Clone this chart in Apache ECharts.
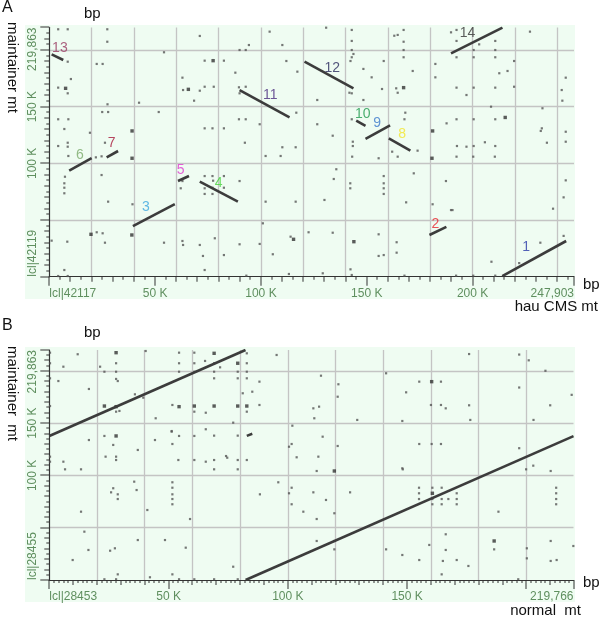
<!DOCTYPE html>
<html>
<head>
<meta charset="utf-8">
<script src="https://cdn.jsdelivr.net/npm/echarts@6/dist/echarts.min.js"></script>
<style>html,body{margin:0;padding:0;background:#fff}#c{width:600px;height:626px}</style>
</head>
<body>
<div id="c"></div>
<script>
// ---------- DATA (kbp) ----------
const aXMax = 247.903, aYMax = 219.863;
const bXMax = 219.766, bYMax = 219.863;
const aXTickLabels = {start: 'lcl|42117', end: '247,903'};
const aYTickLabels = {start: 'lcl|42119', end: '219,863'};
const bXTickLabels = {start: 'lcl|28453', end: '219,766'};
const bYTickLabels = {start: 'lcl|28455', end: '219,863'};
// minor tick steps (kbp) of each axis
const aXTickStep = 5, aYTickStep = 5, bXTickStep = 2, bYTickStep = 5;

// Panel A alignment segments [x1,y1,x2,y2]
const aSegments = [
  [214.0,0.5,244.2,31.5],[179.6,36.8,187.6,43.9],[39.5,44.7,59.3,64.1],[71.1,83.8,89.1,66.2],
  [60.8,84.4,66.0,88.8],[9.4,93.5,20.0,104.7],[27.1,105.3,32.5,110.9],[160.4,122.1,170.6,111.2],
  [149.4,121.5,161.0,133.6],[145.0,137.6,149.4,133.0],[89.9,164.7,113.5,140.6],[120.6,189.7,143.7,166.2],
  [1.1,196.2,6.6,191.2],[189.8,197.1,214.1,219.8]
];
const aSegNames = ['1','2','3','4','5','6','7','8','9','10','11','12','13','14'];
const aSegLabelPos = [
  [225.3,26.2],[182.4,46.5],[45.6,61.5],[80.0,82.7],[62.1,94.1],[14.5,107.4],[29.4,117.7],
  [166.7,125.6],[154.9,135.9],[148.1,143.5],[104.4,160.3],[133.7,184.4],[5.0,201.5],[197.6,214.8]
];
const aSegLabelColors = ['#2a3aa8','#e8262e','#3aa6e0','#44d23a','#e03ad0','#7aaa6a','#a8163a',
  '#f2e62a','#3a78cc','#1f9a4e','#4a2a7e','#2a2a5e','#9a3a62','#333333'];

const aDots = [
  [4.2,218.3],[8.7,218.3],[27.4,218.3],[27.4,207.3],[8.7,189.7],[54.2,198.0],[22.4,187.7],[25.2,187.7],
  [10.2,174.4],[4.2,166.8],[8.7,161.8],[62.9,175.6],[63.2,164.7],[68.4,155.3],[42.4,153.5],[25.0,145.3],
  [27.8,145.3],[51.7,145.3],[4.2,138.9],[9.0,138.9],[7.1,130.3],[19.2,127.0],[4.2,115.3],[8.7,118.2],
  [8.7,114.7],[26.3,118.2],[71.1,212.4],[104.1,216.2],[110.1,204.4],[94.3,204.4],[89.9,200.0],[92.8,200.0],
  [73.4,190.6],[82.5,190.6],[112.0,190.3],[117.2,180.9],[87.9,180.0],[71.1,164.1],[73.4,167.6],[77.7,167.6],
  [89.6,167.1],[92.8,167.6],[89.9,161.8],[27.5,152.1],[24.7,106.2],[73.4,130.9],[77.1,130.9],[82.5,130.9],
  [89.6,138.9],[92.8,138.9],[99.4,134.5],[92.4,118.2],[116.7,144.7],[110.1,114.2],[116.4,114.2],[102.2,106.5],
  [109.3,106.5],[24.7,89.7],[27.8,66.2],[39.3,63.9],[62.1,78.0],[73.4,88.8],[77.1,88.8],[82.5,88.8],
  [73.4,78.0],[77.1,78.5],[82.5,78.5],[73.4,73.0],[77.1,73.0],[77.4,84.7],[89.9,84.4],[102.2,66.2],
  [116.4,66.2],[100.9,47.1],[25.2,38.3],[26.3,30.0],[54.2,30.0],[62.9,31.5],[63.2,28.0],[71.1,28.0],
  [78.2,33.9],[89.9,28.6],[99.4,28.9],[72.6,18.3],[82.5,19.1],[105.6,19.8],[114.0,35.3],[9.0,106.5],
  [22.0,105.3],[7.4,88.2],[7.1,82.4],[7.1,78.5],[7.1,73.6],[62.9,84.4],[22.4,39.2],[1.1,31.8],
  [8.5,30.9],[7.1,5.9],[4.2,0.6],[8.7,0.6],[73.4,5.9],[93.1,0.9],[113.2,2.4],[129.2,3.0],
  [142.3,6.5],[142.9,1.5],[167.8,0.9],[192.2,0.9],[200.3,0.9],[208.9,13.2],[210.7,0.9],
  [130.8,219.7],[142.9,217.7],[167.4,217.7],[163.0,212.6],[164.6,213.3],[167.4,207.3],[142.9,208.0],[189.8,215.6],
  [192.4,217.7],[192.4,208.0],[203.1,205.0],[200.5,200.0],[210.7,208.0],[210.7,200.0],[227.1,216.2],[142.9,200.0],
  [143.7,196.5],[142.9,193.6],[142.3,190.3],[167.4,200.0],[167.4,193.6],[158.0,190.3],[192.4,193.6],[200.5,193.6],
  [210.7,193.6],[219.6,190.3],[182.4,187.7],[148.4,183.3],[171.7,181.5],[182.4,175.9],[152.3,175.9],[212.6,179.5],
  [216.5,181.5],[244.0,175.6],[219.6,167.6],[163.9,166.2],[157.2,165.6],[192.4,166.8],[200.5,166.8],[210.7,166.8],
  [164.6,162.3],[141.8,162.3],[142.9,161.8],[197.1,160.3],[242.1,164.7],[242.4,155.3],[126.6,155.9],[148.4,155.9],
  [208.7,150.0],[233.0,148.6],[126.6,134.5],[133.9,124.4],[142.9,138.9],[168.2,144.7],[167.8,138.9],[187.7,135.3],
  [192.4,138.9],[200.5,138.9],[210.7,138.9],[143.4,119.1],[143.4,115.3],[232.2,128.6],[232.7,130.9],[244.0,127.9],
  [235.1,118.2],[244.0,119.1],[192.6,115.3],[197.1,114.7],[200.5,115.3],[205.8,118.6],[210.7,115.3],
  [143.1,105.9],[155.6,104.5],[162.0,110.3],[164.6,105.9],[174.0,111.2],[192.4,105.9],[200.3,105.9],[210.5,105.9],
  [135.6,94.8],[134.4,86.2],[142.2,82.4],[142.2,78.0],[158.0,88.8],[158.0,82.4],[158.0,78.0],[158.0,73.0],
  [172.2,91.2],[187.4,84.4],[130.0,67.7],[168.6,65.6],[181.1,63.9],[189.8,58.8],[190.5,58.8],[122.5,39.2],
  [133.9,38.8],[155.6,37.4],[164.1,30.4],[164.1,21.2],[155.6,18.3],[158.0,19.1],
  [244.0,85.0],[243.0,70.0],[238.0,60.0],[232.0,30.0],[243.0,36.0],[222.0,12.0]
];
const aBigDots = [
  [7.7,166.2],[65.7,165.3],[39.1,128.6],[39.1,104.5],[39.0,36.8],[19.7,37.4],[115.4,33.0],[77.4,190.6],
  [167.4,166.8],[215.4,140.5],[181.1,128.6],[180.8,104.5],[143.9,30.9]
];

// Panel B alignment segments [x1,y1,x2,y2]
const bSegments = [
  [0.0,137.6,82.26,219.86],[82.3,0.0,219.766,137.5],[82.8,137.8,85.1,139.8]
];
const bDots = [
  [0.3,217.3],[11.9,215.8],[40.4,218.9],[54.4,217.3],[60.8,217.3],[0.3,207.2],[5.9,203.9],[21.3,203.9],
  [28.0,207.2],[23.1,199.1],[28.0,199.1],[54.4,207.2],[54.4,199.1],[60.8,207.2],[60.8,199.1],[0.3,192.8],
  [3.8,190.2],[28.0,192.2],[28.7,190.2],[16.6,182.6],[35.9,177.5],[39.4,174.3],[0.3,166.3],[28.0,160.9],
  [29.4,161.6],[51.6,167.3],[44.6,154.6],[23.1,137.7],[16.6,133.8],[26.8,129.1],[37.1,124.3],[44.3,133.8],
  [51.6,130.0],[51.3,141.8],[54.4,137.7],[60.8,137.7],[23.6,117.9],[28.0,117.9],[0.3,117.9],
  [82.8,216.7],[95.3,215.1],[65.3,209.4],[69.1,207.2],[71.6,203.3],[82.8,207.2],[69.1,199.1],[79.0,199.1],
  [82.8,199.1],[69.1,192.8],[79.0,192.8],[82.8,192.8],[88.1,189.6],[113.9,195.3],[121.2,187.1],[120.9,175.2],
  [141.2,197.6],[149.6,179.4],[155.1,189.6],[164.2,189.6],[81.1,178.5],[85.1,180.0],[88.1,167.3],[60.8,160.9],
  [65.6,159.9],[82.8,160.9],[110.7,164.1],[113.1,165.7],[111.1,154.6],[160.0,167.3],[164.2,167.3],[166.2,164.1],
  [77.1,150.4],[129.1,153.0],[148.0,152.0],[101.9,147.5],[51.3,142.4],[65.6,144.1],[69.1,138.0],[79.0,138.0],
  [114.6,137.0],[101.6,130.0],[100.5,127.4],[120.9,128.1],[155.1,130.0],[160.3,130.0],[164.2,130.0],[74.1,118.5],
  [74.6,116.9],[54.1,114.7],[60.8,114.7],[65.6,113.1],[69.1,114.7],[79.0,114.7],[82.8,114.7],[103.7,117.3],
  [112.8,117.9],[148.0,106.8],[69.1,105.8],[79.0,105.8],
  [0.3,113.1],[5.9,113.1],[6.6,105.8],[13.3,105.8],[28.0,114.7],
  [25.9,83.8],[26.8,87.7],[28.7,81.9],[28.7,77.4],[35.6,94.0],[36.6,86.0],[51.6,93.4],[51.6,88.2],
  [51.6,81.9],[51.6,77.4],[51.6,72.4],[13.3,65.3],[41.1,66.9],[59.0,58.3],[14.7,46.2],[37.1,38.2],
  [48.5,38.2],[16.4,28.7],[25.5,28.0],[27.5,30.3],[57.2,30.9],[9.8,19.1],[77.1,12.7],[28.7,5.4],
  [42.2,2.6],[51.6,5.4],[23.1,0.7],[28.0,0.7],[54.4,0.7],[60.8,0.7],[69.1,0.7],[79.0,0.7],
  [88.3,81.9],[96.0,93.4],[100.5,82.9],[101.6,88.2],[101.6,72.4],
  [112.1,104.2],[148.2,105.8],[202.9,109.3],[210.2,104.2],[199.9,105.8],[110.7,83.8],[116.0,76.5],[126.1,83.8],
  [106.5,65.3],[112.1,58.3],[119.5,63.8],[155.0,88.2],[155.0,82.9],[155.0,77.4],[160.6,88.2],[160.6,77.4],
  [160.6,72.4],[164.5,88.2],[164.5,77.4],[164.5,72.4],[167.3,77.4],[170.8,82.9],[170.8,77.4],[170.8,72.4],
  [212.5,88.2],[212.5,82.9],[212.5,77.4],[212.5,72.4],[188.3,65.3],[112.1,37.3],[119.5,37.3],[119.5,29.3],
  [141.2,29.3],[148.0,23.9],[155.1,19.1],[159.3,33.5],[166.2,43.7],[166.2,28.7],[165.0,18.2],[170.8,19.1],
  [175.7,13.4],[164.5,5.4],[186.5,29.3],[200.2,30.3],[200.2,20.7],[210.2,37.3],[210.2,18.2],[212.7,19.1],
  [219.7,32.5],[196.6,0.7],
  [176.0,216.0],[197.0,215.5],[201.0,210.0],[208.0,200.0],[219.0,177.0],[197.0,184.0],[176.0,167.0],[210.0,167.0],
  [176.5,153.0],[203.0,153.0],[197.0,126.0]
];
const bBigDots = [
  [28.0,217.3],[23.1,166.3],[28.0,165.7],[54.4,165.7],[60.8,166.3],[28.0,137.7],[69.1,216.7],[79.0,207.2],
  [160.3,189.6],[69.1,166.3],[79.0,166.3],[82.8,166.3],[119.5,104.2],[160.6,82.9],[186.5,37.3]
];

// ---------- STYLE / BUILD ----------
const LBL = '#5f8f5f', TXT = '#111', FONT = 'Liberation Sans', TICK = '#333', GRIDC = '#c4c4c4';
const chart = echarts.init(document.getElementById('c'), null, {renderer: 'canvas'});
const near = (a, b) => Math.abs(a - b) < 1e-6;
function tickValues(max, step) {
  const out = [];
  for (let i = 0; i * step <= max + 1e-9; i++) out.push(Math.round(i * step * 1000) / 1000);
  if (!near(out[out.length - 1], max)) out.push(max);
  return out;
}
function tickLen(v, max) {
  const m = Math.round(v * 1000);
  if (m % 50000 === 0 || near(v, max)) return 9;
  if (m % 10000 === 0) return 5;
  return 3;
}
function mainX(gi, max, tl) {
  return {gridIndex: gi, type: 'value', min: 0, max: max, interval: 50, position: 'bottom',
    axisLine: {show: true, onZero: false, lineStyle: {color: TICK, width: 1.2}},
    axisTick: {show: false}, splitLine: {show: false},
    axisLabel: {show: true, margin: 11, color: LBL, fontSize: 12, fontFamily: FONT,
      alignMinLabel: 'left', alignMaxLabel: 'right', showMinLabel: true, showMaxLabel: true,
      formatter: v => near(v, 0) ? tl.start : (near(v, max) ? tl.end : v + ' K')}};
}
function gridX(gi, max) {
  return {gridIndex: gi, type: 'value', min: 0, max: max, interval: 20, position: 'bottom',
    axisLine: {show: false, onZero: false}, axisLabel: {show: false}, axisTick: {show: false},
    splitLine: {show: true, showMinLine: false, showMaxLine: false, lineStyle: {color: GRIDC, width: 1.3}}};
}
function mainY(gi, max, tl) {
  return {gridIndex: gi, type: 'value', min: 0, max: max, interval: 50, position: 'left',
    axisLine: {show: true, onZero: false, lineStyle: {color: TICK, width: 1.2}},
    axisTick: {show: false},
    splitLine: {show: true, showMinLine: false, showMaxLine: false, lineStyle: {color: GRIDC, width: 1.3}},
    axisLabel: {show: true, rotate: 90, margin: 11, color: LBL, fontSize: 12, fontFamily: FONT,
      alignMinLabel: 'left', alignMaxLabel: 'right', showMinLabel: true, showMaxLabel: true,
      formatter: v => near(v, 0) ? tl.start : (near(v, max) ? tl.end : (near(v, 50) ? '' : v + ' K'))}};
}
// ticks drawn through the axes' own scales (as thin filled rects)
function xTickSeries(xi, yi, max, step) {
  return {type: 'custom', xAxisIndex: xi, yAxisIndex: yi, clip: false, silent: true, z: 5,
    data: tickValues(max, step).map(v => [v, 0]),
    renderItem: (params, api) => {
      const v = api.value(0), p = api.coord([v, 0]);
      return {type: 'rect', shape: {x: Math.round(p[0]) - 0.5, y: p[1], width: 1, height: tickLen(v, max)},
        style: {fill: TICK}};
    }};
}
function yTickSeries(xi, yi, max, step) {
  return {type: 'custom', xAxisIndex: xi, yAxisIndex: yi, clip: false, silent: true, z: 5,
    data: tickValues(max, step).map(v => [0, v]),
    renderItem: (params, api) => {
      const v = api.value(1), p = api.coord([0, v]);
      const len = tickLen(v, max);
      return {type: 'rect', shape: {x: p[0] - len, y: Math.round(p[1]) - 0.5, width: len, height: 1},
        style: {fill: TICK}};
    }};
}
const xAxes = [mainX(0, aXMax, aXTickLabels), gridX(0, aXMax), mainX(1, bXMax, bXTickLabels), gridX(1, bXMax)];
const yAxes = [mainY(0, aYMax, aYTickLabels), mainY(1, bYMax, bYTickLabels)];
const segData = s => s.map(d => ({coords: [[d[0], d[1]], [d[2], d[3]]]}));
const series = [
  {type: 'lines', coordinateSystem: 'cartesian2d', xAxisIndex: 0, yAxisIndex: 0, silent: true,
    lineStyle: {color: '#3c3c3c', width: 2.6, opacity: 1}, data: segData(aSegments), z: 3},
  {type: 'scatter', xAxisIndex: 0, yAxisIndex: 0, symbol: 'rect', symbolSize: 2.2, silent: true,
    itemStyle: {color: '#555'}, data: aDots, z: 2},
  {type: 'scatter', xAxisIndex: 0, yAxisIndex: 0, symbol: 'rect', symbolSize: 3.4, silent: true,
    itemStyle: {color: '#333'}, data: aBigDots, z: 2},
  {type: 'scatter', xAxisIndex: 0, yAxisIndex: 0, symbolSize: 1, silent: true,
    itemStyle: {color: 'rgba(0,0,0,0)'},
    data: aSegLabelPos.map((p, i) => ({value: p, name: aSegNames[i],
      label: {show: true, position: 'inside', formatter: '{b}', color: aSegLabelColors[i],
        fontSize: 14, fontFamily: FONT}})), z: 4},
  {type: 'lines', coordinateSystem: 'cartesian2d', xAxisIndex: 2, yAxisIndex: 1, silent: true,
    lineStyle: {color: '#3c3c3c', width: 2.6, opacity: 1}, data: segData(bSegments), z: 3},
  {type: 'scatter', xAxisIndex: 2, yAxisIndex: 1, symbol: 'rect', symbolSize: 2.2, silent: true,
    itemStyle: {color: '#555'}, data: bDots, z: 2},
  {type: 'scatter', xAxisIndex: 2, yAxisIndex: 1, symbol: 'rect', symbolSize: 3.4, silent: true,
    itemStyle: {color: '#333'}, data: bBigDots, z: 2},
  xTickSeries(0, 0, aXMax, aXTickStep), yTickSeries(0, 0, aYMax, aYTickStep),
  xTickSeries(2, 1, bXMax, bXTickStep), yTickSeries(2, 1, bYMax, bYTickStep)
];
const txt = (x, y, s, size, extra) => Object.assign({type: 'text', x: x, y: y, silent: true,
  style: {text: s, fill: TXT, font: size + 'px ' + FONT}}, extra || {});
chart.setOption({
  animation: false,
  grid: [
    {left: 49.3, top: 27.5, width: 524.7, height: 249.2, outerBoundsMode: 'none'},
    {left: 49.3, top: 350, width: 524.2, height: 230, outerBoundsMode: 'none'}
  ],
  xAxis: xAxes,
  yAxis: yAxes,
  series: series,
  graphic: [
    {type: 'rect', shape: {x: 25, y: 25, width: 550, height: 274}, style: {fill: '#effcf2'}, z: -10, silent: true},
    {type: 'rect', shape: {x: 25, y: 347, width: 550, height: 255}, style: {fill: '#effcf2'}, z: -10, silent: true},
    txt(2, 0, 'A', 16),
    txt(84, 6, 'bp', 15),
    txt(20, 22, 'maintainer mt', 15, {rotation: -Math.PI / 2}),
    txt(583, 277, 'bp', 15),
    {type: 'text', x: 598, y: 299, silent: true, style: {text: 'hau CMS mt', fill: TXT, font: '15px ' + FONT, align: 'right'}},
    txt(2, 318, 'B', 16),
    txt(84, 325, 'bp', 15),
    txt(20, 346, 'maintainer  mt', 15, {rotation: -Math.PI / 2}),
    txt(583, 575, 'bp', 15),
    {type: 'text', x: 581, y: 603, silent: true, style: {text: 'normal  mt', fill: TXT, font: '15px ' + FONT, align: 'right'}}
  ]
});
</script>
</body>
</html>
